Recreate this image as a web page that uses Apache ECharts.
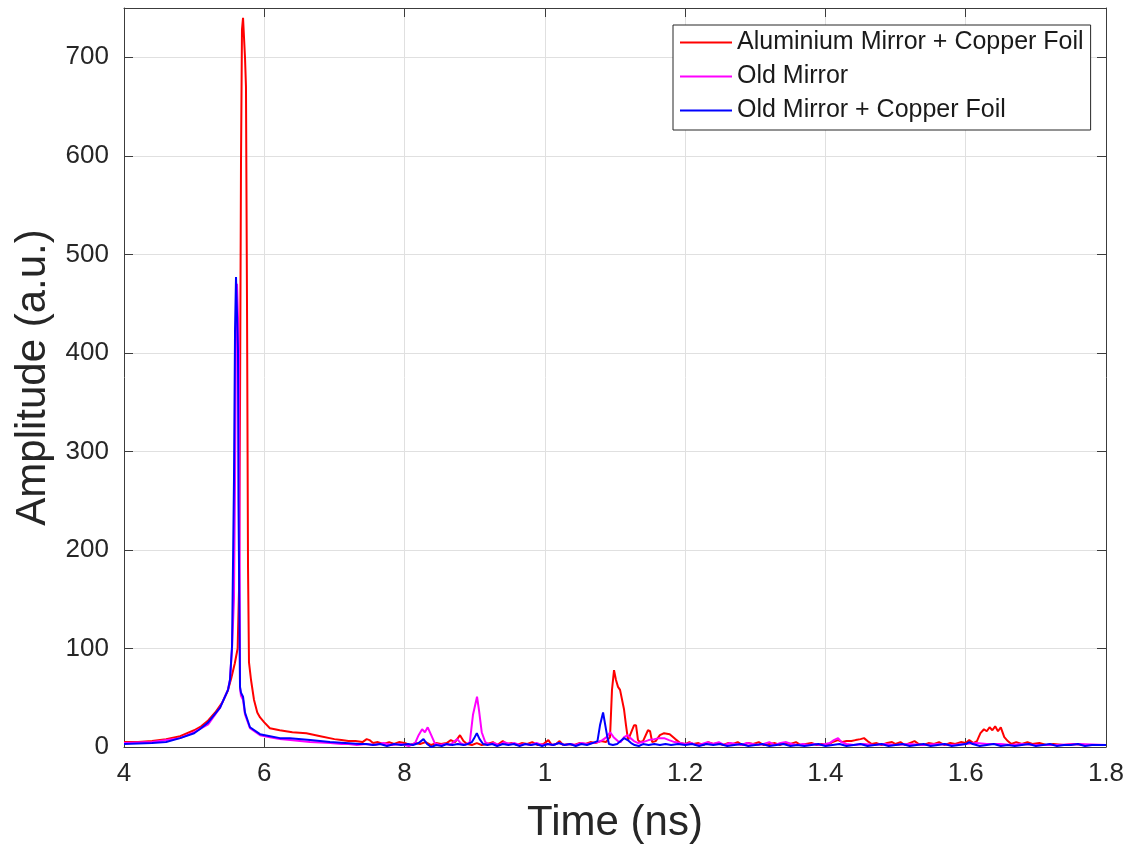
<!DOCTYPE html>
<html>
<head>
<meta charset="utf-8">
<script src="https://cdn.jsdelivr.net/npm/echarts@6/dist/echarts.min.js"></script>
<style>
html,body{margin:0;padding:0;background:#fff;}
#chart{width:1142px;height:849px;}
</style>
</head>
<body>
<div id="chart"></div>
<script>
// ---- data ----
var seriesNames = ["Aluminium Mirror + Copper Foil", "Old Mirror", "Old Mirror + Copper Foil"];
var xTickLabels = ["4", "6", "8", "1", "1.2", "1.4", "1.6", "1.8"];
var yTickValues = [0, 100, 200, 300, 400, 500, 600, 700];

// Aluminium Mirror + Copper Foil : [time, amplitude]
var alData = [
 [0.400,5],[0.420,5],[0.440,6],[0.460,8],[0.480,11],[0.500,17],[0.510,21],[0.520,27],[0.530,35],[0.540,45],
 [0.548,57],[0.553,70],[0.558,85],[0.562,100],[0.5640,160],[0.5654,347],[0.5668,593],[0.5682,728],[0.5697,740],[0.5711,742],
 [0.5725,700],[0.5739,670],[0.5754,444],[0.5768,183],[0.5782,86],[0.5797,88],[0.5811,68],[0.5853,48],[0.590,35],[0.594,30],
 [0.600,25],[0.608,19],[0.622,17],[0.640,15],[0.660,14],[0.680,11],[0.700,8],[0.710,7],[0.720,6],[0.730,6],
 [0.740,5],[0.746,8],[0.750,7],[0.755,4],[0.762,5],[0.770,3],[0.778,5],[0.785,3],[0.792,5],[0.800,4],
 [0.808,2],[0.815,4],[0.822,3],[0.830,5],[0.838,2],[0.845,4],[0.852,3],[0.860,4],[0.866,7],[0.872,5],
 [0.879,12],[0.884,6],[0.889,3],[0.896,2],[0.903,4],[0.910,2],[0.918,3],[0.926,5],[0.932,2],[0.940,6],
 [0.946,3],[0.953,4],[0.960,2],[0.967,4],[0.975,3],[0.982,5],[0.990,2],[0.998,3],[1.005,7],[1.010,2],
 [1.016,3],[1.021,6],[1.026,2],[1.034,3],[1.042,2],[1.050,4],[1.058,3],[1.065,5],[1.072,4],[1.080,6],
 [1.087,5],[1.0929,10],[1.0957,58],[1.0986,78],[1.1014,68],[1.1043,61],[1.1072,58],[1.1129,38],[1.1157,22],[1.1186,7],
 [1.1214,6],[1.1271,22],[1.130,22],[1.1328,7],[1.1357,5],[1.140,6],[1.147,17],[1.150,16],[1.153,5],[1.158,6],
 [1.164,12],[1.170,14],[1.178,13],[1.186,8],[1.193,4],[1.200,3],[1.206,5],[1.212,3],[1.219,4],[1.226,2],
 [1.233,5],[1.240,3],[1.247,4],[1.254,2],[1.261,4],[1.268,3],[1.275,5],[1.282,2],[1.290,4],[1.297,3],
 [1.305,5],[1.312,2],[1.320,3],[1.328,4],[1.335,2],[1.342,4],[1.350,3],[1.358,5],[1.365,2],[1.372,3],
 [1.380,4],[1.388,2],[1.395,3],[1.400,2],[1.405,3],[1.410,5],[1.418,7],[1.424,5],[1.430,6],[1.437,6],
 [1.443,7],[1.450,8],[1.455,9],[1.460,6],[1.466,3],[1.473,4],[1.480,2],[1.488,4],[1.495,5],[1.500,3],
 [1.507,5],[1.513,2],[1.520,4],[1.527,6],[1.533,3],[1.540,2],[1.547,4],[1.555,3],[1.562,5],[1.570,2],
 [1.578,4],[1.585,3],[1.593,5],[1.600,4],[1.605,7],[1.611,4],[1.616,6],[1.621,14],[1.626,18],[1.630,16],
 [1.634,20],[1.638,17],[1.642,21],[1.646,16],[1.650,20],[1.655,10],[1.660,6],[1.665,3],[1.672,5],[1.680,3],
 [1.688,5],[1.695,3],[1.705,4],[1.715,2],[1.725,3],[1.740,2],[1.755,3],[1.770,2],[1.785,2],[1.800,2]
];

// Old Mirror : [time, amplitude]
var omData = [
 [0.400,4],[0.440,5],[0.480,9],[0.500,15],[0.520,23],[0.537,40],[0.548,58],[0.551,68],[0.554,100],[0.5568,150],
 [0.5583,271],[0.5597,420],[0.5611,470],[0.5625,470],[0.5640,400],[0.5654,60],[0.5668,52],[0.5697,48],[0.5725,33],[0.5796,19],
 [0.594,12],[0.608,10],[0.622,8],[0.637,7],[0.665,5],[0.694,4],[0.710,3],[0.720,3],[0.732,2],[0.745,3],
 [0.758,2],[0.770,4],[0.782,2],[0.795,3],[0.806,1],[0.815,4],[0.820,12],[0.825,18],[0.829,15],[0.833,20],
 [0.838,12],[0.843,4],[0.850,2],[0.858,3],[0.865,2],[0.870,5],[0.875,8],[0.880,4],[0.886,2],[0.893,5],
 [0.8976,33],[0.9033,51],[0.906,38],[0.910,15],[0.915,5],[0.921,3],[0.928,4],[0.935,2],[0.942,5],[0.950,3],
 [0.957,4],[0.964,2],[0.972,3],[0.980,2],[0.988,4],[0.996,2],[1.004,3],[1.012,2],[1.020,4],[1.028,2],
 [1.036,3],[1.044,2],[1.052,4],[1.060,3],[1.068,4],[1.076,5],[1.082,7],[1.088,10],[1.093,15],[1.098,10],
 [1.104,6],[1.108,5],[1.113,10],[1.118,12],[1.122,9],[1.127,6],[1.133,4],[1.140,5],[1.148,7],[1.156,8],
 [1.163,9],[1.170,9],[1.177,7],[1.185,5],[1.193,4],[1.200,3],[1.208,4],[1.216,2],[1.224,3],[1.232,5],
 [1.240,3],[1.248,5],[1.256,2],[1.264,4],[1.272,3],[1.280,2],[1.288,4],[1.296,3],[1.304,2],[1.312,3],
 [1.320,5],[1.328,2],[1.336,4],[1.344,5],[1.352,3],[1.360,2],[1.368,3],[1.376,2],[1.384,3],[1.392,2],
 [1.400,3],[1.406,4],[1.412,7],[1.418,9],[1.423,5],[1.430,3],[1.440,2],[1.455,3],[1.470,2],[1.485,3],
 [1.500,2],[1.520,3],[1.540,2],[1.560,3],[1.580,2],[1.600,3],[1.615,4],[1.630,3],[1.650,3],[1.665,2],
 [1.680,3],[1.700,2],[1.730,2],[1.760,3],[1.800,2]
];

// Old Mirror + Copper Foil : [time, amplitude]
var omcData = [
 [0.400,3],[0.440,4],[0.460,5],[0.480,9],[0.500,14],[0.508,18],[0.520,25],[0.537,40],[0.5483,58],[0.5511,68],
 [0.554,102],[0.5548,149],[0.5568,271],[0.5583,424],[0.5597,477],[0.5611,478],[0.5625,403],[0.5632,250],[0.5654,61],[0.5668,55],
 [0.5697,51],[0.5725,35],[0.5796,20],[0.5939,13],[0.6082,11],[0.6224,9],[0.6367,9],[0.6652,7],[0.6937,5],[0.7365,3],
 [0.745,3],[0.755,2],[0.765,3],[0.775,1],[0.785,3],[0.795,2],[0.805,3],[0.812,2],[0.820,4],[0.827,8],
 [0.832,3],[0.838,0],[0.845,2],[0.853,1],[0.860,3],[0.868,2],[0.876,3],[0.884,2],[0.890,3],[0.896,5],
 [0.900,10],[0.903,14],[0.907,8],[0.912,3],[0.918,2],[0.925,3],[0.932,1],[0.940,3],[0.948,2],[0.956,3],
 [0.964,1],[0.972,3],[0.980,2],[0.988,3],[0.996,1],[1.004,3],[1.012,2],[1.020,4],[1.028,2],[1.036,3],
 [1.044,1],[1.052,3],[1.060,2],[1.068,4],[1.075,6],[1.0786,22],[1.083,35],[1.0857,33],[1.0886,12],[1.0914,3],
 [1.097,2],[1.103,3],[1.108,6],[1.113,9],[1.118,7],[1.123,4],[1.128,2],[1.134,1],[1.140,3],[1.148,2],
 [1.156,3],[1.164,2],[1.172,3],[1.180,2],[1.190,3],[1.200,2],[1.210,3],[1.220,1],[1.230,3],[1.240,2],
 [1.250,3],[1.260,1],[1.270,2],[1.280,3],[1.290,1],[1.300,2],[1.310,3],[1.320,1],[1.330,2],[1.340,3],
 [1.350,1],[1.360,2],[1.370,1],[1.380,2],[1.390,3],[1.400,1],[1.410,2],[1.420,3],[1.430,1],[1.440,2],
 [1.450,3],[1.460,1],[1.470,2],[1.480,3],[1.490,1],[1.500,2],[1.510,3],[1.520,1],[1.530,2],[1.540,3],
 [1.550,1],[1.560,2],[1.570,3],[1.580,1],[1.590,2],[1.600,3],[1.605,5],[1.610,3],[1.620,1],[1.630,2],
 [1.640,3],[1.650,1],[1.660,2],[1.670,1],[1.680,2],[1.690,3],[1.700,1],[1.710,2],[1.720,3],[1.730,1],
 [1.740,2],[1.750,2],[1.760,3],[1.770,1],[1.780,2],[1.790,2],[1.800,2]
];

var X_MIN = 0.4, X_MAX = 1.8, X_STEP = 0.2;
var Y_MIN = 0, Y_MAX = 750, Y_STEP = 100;

var textColor = '#262626';
var axisColor = '#3c3c3c';
var gridColor = '#e0e0e0';

var chart = echarts.init(document.getElementById('chart'), null, {renderer: 'canvas'});
var option = {
  animation: false,
  backgroundColor: '#ffffff',
  textStyle: {fontFamily: 'Liberation Sans, Arial, sans-serif'},
  grid: {left: 124, right: 36, top: 8, bottom: 102, show: false},
  legend: {
    data: seriesNames,
    orient: 'vertical',
    left: 673, top: 25,
    padding: [5, 7, 7, 7],
    itemGap: 9,
    itemWidth: 52, itemHeight: 2,
    icon: 'rect',
    backgroundColor: '#ffffff',
    borderColor: '#262626', borderWidth: 1,
    textStyle: {fontSize: 25, color: '#1a1a1a', fontFamily: 'Liberation Sans, Arial, sans-serif'}
  },
  xAxis: [{
    type: 'value', min: X_MIN, max: X_MAX, interval: X_STEP, position: 'bottom',
    name: 'Time (ns)', nameLocation: 'middle', nameGap: 55,
    nameTextStyle: {fontSize: 42, color: textColor},
    axisLine: {show: true, lineStyle: {color: axisColor, width: 1}},
    axisTick: {show: true, inside: true, length: 9, lineStyle: {color: axisColor}},
    axisLabel: {fontSize: 26, color: textColor, margin: 14,
      formatter: function (v) { return xTickLabels[Math.round((v - X_MIN) / X_STEP)]; }},
    splitLine: {show: true, lineStyle: {color: gridColor, width: 1}}
  }, {
    type: 'value', min: X_MIN, max: X_MAX, interval: X_STEP, position: 'top',
    axisLine: {show: true, onZero: false, lineStyle: {color: axisColor, width: 1}},
    axisTick: {show: true, inside: true, length: 9, lineStyle: {color: axisColor}},
    axisLabel: {show: false}, splitLine: {show: false}
  }],
  yAxis: [{
    type: 'value', min: Y_MIN, max: Y_MAX, interval: Y_STEP, position: 'left',
    name: 'Amplitude (a.u.)', nameLocation: 'middle', nameGap: 57, nameRotate: 90,
    nameTextStyle: {fontSize: 42, color: textColor},
    axisLine: {show: true, lineStyle: {color: axisColor, width: 1}},
    axisTick: {show: true, inside: true, length: 9, lineStyle: {color: axisColor}},
    axisLabel: {fontSize: 26, color: textColor, margin: 15, showMaxLabel: false,
      formatter: function (v) { return yTickValues.indexOf(v) >= 0 ? String(v) : ''; }},
    splitLine: {show: true, lineStyle: {color: gridColor, width: 1}}
  }, {
    type: 'value', min: Y_MIN, max: Y_MAX, interval: Y_STEP, position: 'right',
    axisLine: {show: true, onZero: false, lineStyle: {color: axisColor, width: 1}},
    axisTick: {show: true, inside: true, length: 9, lineStyle: {color: axisColor}},
    axisLabel: {show: false}, splitLine: {show: false}
  }],
  series: [
    {name: seriesNames[0], type: 'line', data: alData, showSymbol: false, symbol: 'none',
     color: '#ff0000', lineStyle: {color: '#ff0000', width: 2}, z: 2},
    {name: seriesNames[1], type: 'line', data: omData, showSymbol: false, symbol: 'none',
     color: '#ff00ff', lineStyle: {color: '#ff00ff', width: 2}, z: 3},
    {name: seriesNames[2], type: 'line', data: omcData, showSymbol: false, symbol: 'none',
     color: '#0000ff', lineStyle: {color: '#0000ff', width: 2}, z: 4}
  ]
};
chart.setOption(option);
</script>
</body>
</html>
